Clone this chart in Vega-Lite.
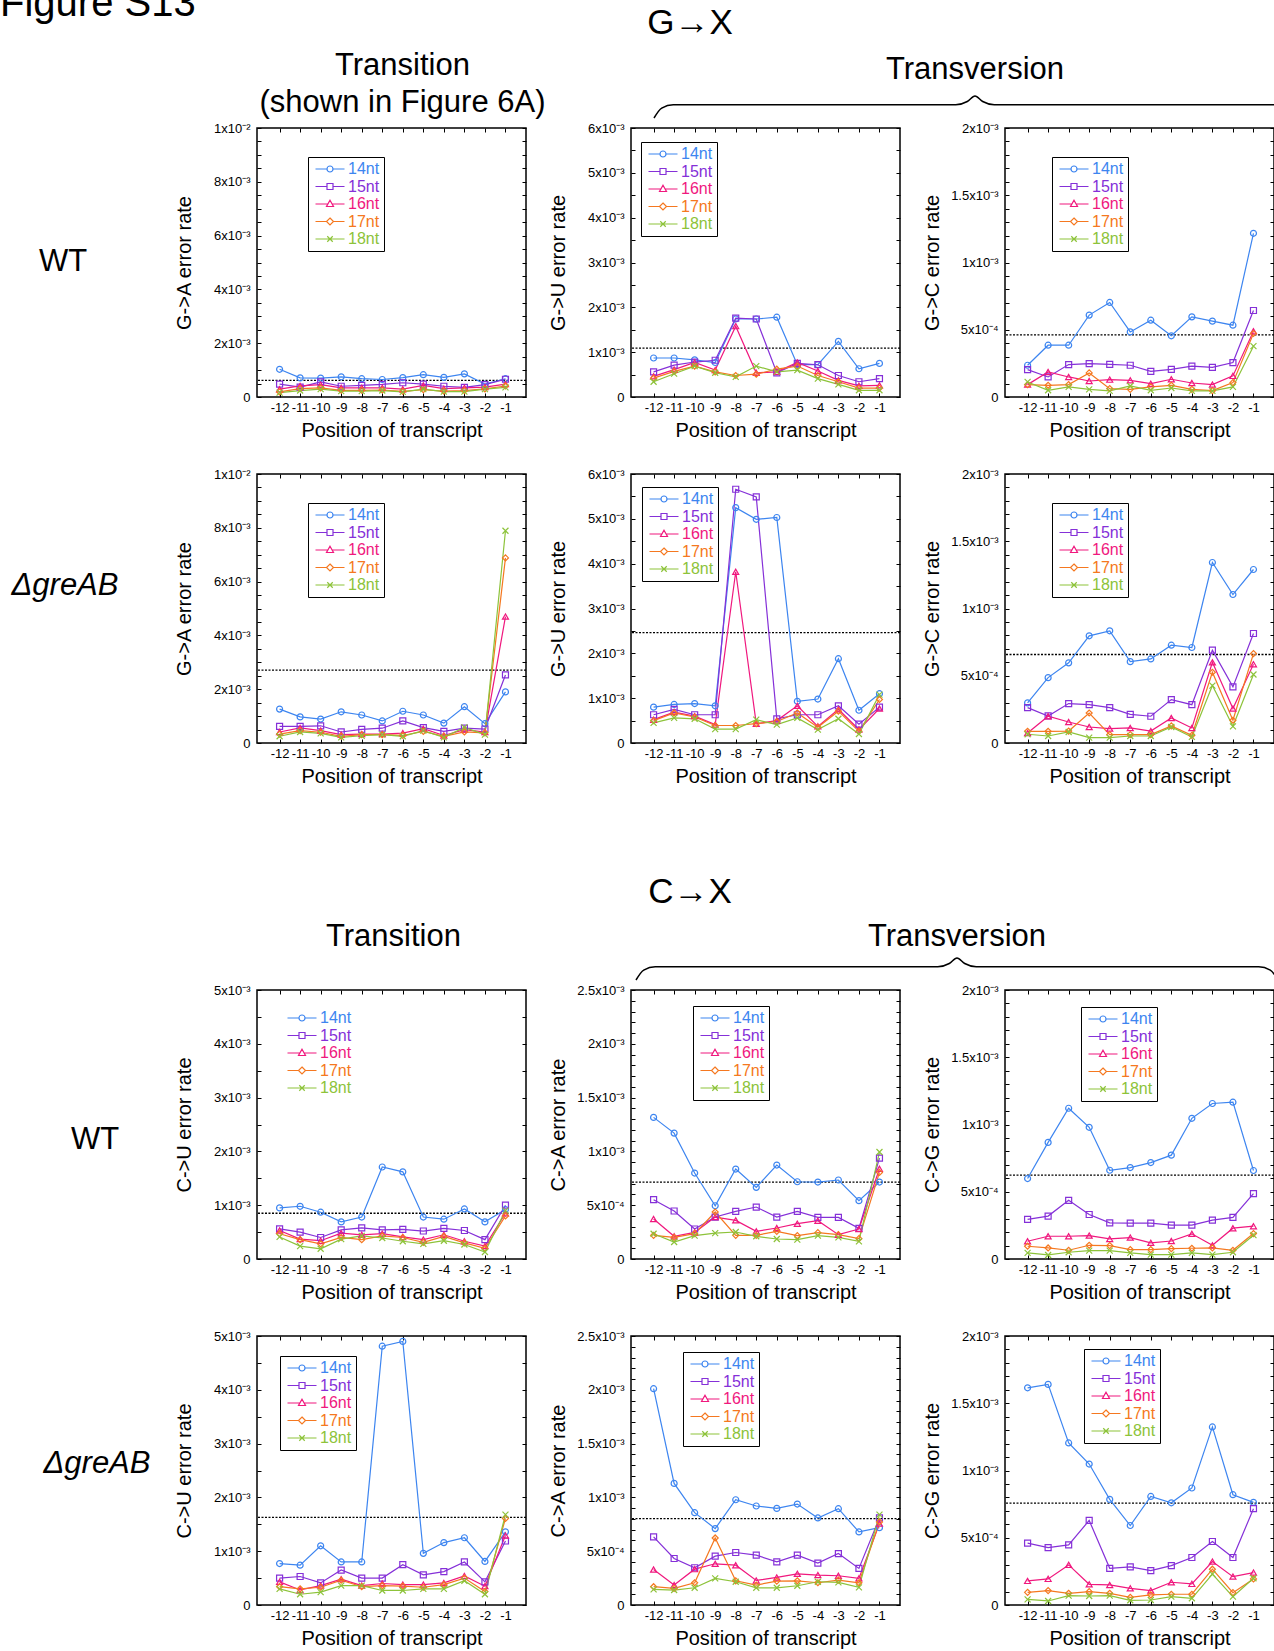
{
"$schema":"https://vega.github.io/schema/vega-lite/v6.json",
"padding":0,
"background":"white",
"config":{
 "font":"Liberation Sans",
 "view":{"stroke":"black","strokeWidth":1.5},
 "axis":{"labelFont":"Liberation Sans","labelFontSize":13,"labelColor":"black","titleFont":"Liberation Sans","titleFontSize":20,"titleFontWeight":"normal","titleColor":"black","tickColor":"black","tickSize":-4,"tickWidth":1,"domain":false,"grid":false,"labelOverlap":false,"labelFlush":false},
 "axisX":{"labelPadding":8,"titlePadding":6},
 "axisY":{"labelPadding":11,"minExtent":60,"maxExtent":60,"titlePadding":3},
 "legend":{"labelFont":"Liberation Sans","labelFontSize":16,"symbolSize":100,"symbolStrokeWidth":1.2,"symbolOffset":10,"labelOffset":10,"rowPadding":1.5,"padding":4,"strokeColor":"black","fillColor":"white"},
 "range":{"category":["#3d85f0","#8530d8","#f0187e","#f57820","#8dc33a"],"symbol":["circle","square","triangle-up","diamond","M-1,-1L1,1M-1,1L1,-1"]},
 "text":{"font":"Liberation Sans","color":"black"}
},
"datasets":{
 "gA_wt":[
  {"p":-12,"14nt":0.00103,"15nt":0.00048,"16nt":0.00029,"17nt":0.00019,"18nt":0.00016},
  {"p":-11,"14nt":0.00071,"15nt":0.00037,"16nt":0.00041,"17nt":0.00031,"18nt":0.00024},
  {"p":-10,"14nt":0.00070,"15nt":0.00056,"16nt":0.00046,"17nt":0.00034,"18nt":0.00029},
  {"p":-9,"14nt":0.00075,"15nt":0.00040,"16nt":0.00034,"17nt":0.00025,"18nt":0.00022},
  {"p":-8,"14nt":0.00068,"15nt":0.00043,"16nt":0.00034,"17nt":0.00025,"18nt":0.00022},
  {"p":-7,"14nt":0.00065,"15nt":0.00047,"16nt":0.00034,"17nt":0.00026,"18nt":0.00024},
  {"p":-6,"14nt":0.00072,"15nt":0.00053,"16nt":0.00029,"17nt":0.00021,"18nt":0.00019},
  {"p":-5,"14nt":0.00083,"15nt":0.00048,"16nt":0.00043,"17nt":0.00027,"18nt":0.00029},
  {"p":-4,"14nt":0.00073,"15nt":0.00040,"16nt":0.00031,"17nt":0.00022,"18nt":0.00020},
  {"p":-3,"14nt":0.00086,"15nt":0.00036,"16nt":0.00034,"17nt":0.00024,"18nt":0.00020},
  {"p":-2,"14nt":0.00048,"15nt":0.00046,"16nt":0.00037,"17nt":0.00030,"18nt":0.00029},
  {"p":-1,"14nt":0.00068,"15nt":0.00066,"16nt":0.00048,"17nt":0.00041,"18nt":0.00036}],
 "gU_wt":[
  {"p":-12,"14nt":0.00087,"15nt":0.00056,"16nt":0.00046,"17nt":0.00042,"18nt":0.00034},
  {"p":-11,"14nt":0.00087,"15nt":0.00071,"16nt":0.00061,"17nt":0.00057,"18nt":0.00052},
  {"p":-10,"14nt":0.00083,"15nt":0.00078,"16nt":0.00077,"17nt":0.00069,"18nt":0.00069},
  {"p":-9,"14nt":0.00077,"15nt":0.00082,"16nt":0.00060,"17nt":0.00056,"18nt":0.00054},
  {"p":-8,"14nt":0.00174,"15nt":0.00176,"16nt":0.00158,"17nt":0.00048,"18nt":0.00045},
  {"p":-7,"14nt":0.00174,"15nt":0.00174,"16nt":0.00054,"17nt":0.00051,"18nt":0.00069},
  {"p":-6,"14nt":0.00178,"15nt":0.00054,"16nt":0.00056,"17nt":0.00062,"18nt":0.00056},
  {"p":-5,"14nt":0.00072,"15nt":0.00075,"16nt":0.00077,"17nt":0.00069,"18nt":0.00060},
  {"p":-4,"14nt":0.00072,"15nt":0.00072,"16nt":0.00058,"17nt":0.00048,"18nt":0.00041},
  {"p":-3,"14nt":0.00124,"15nt":0.00048,"16nt":0.00037,"17nt":0.00034,"18nt":0.00028},
  {"p":-2,"14nt":0.00063,"15nt":0.00034,"16nt":0.00025,"17nt":0.00020,"18nt":0.00015},
  {"p":-1,"14nt":0.00075,"15nt":0.00041,"16nt":0.00026,"17nt":0.00020,"18nt":0.00015}],
 "gC_wt":[
  {"p":-12,"14nt":0.000236,"15nt":0.000204,"16nt":0.000092,"17nt":0.000092,"18nt":0.000112},
  {"p":-11,"14nt":0.000385,"15nt":0.000149,"16nt":0.000186,"17nt":0.000087,"18nt":0.000050},
  {"p":-10,"14nt":0.000385,"15nt":0.000241,"16nt":0.000149,"17nt":0.000092,"18nt":0.000075},
  {"p":-9,"14nt":0.000609,"15nt":0.000248,"16nt":0.000119,"17nt":0.000179,"18nt":0.000057},
  {"p":-8,"14nt":0.000703,"15nt":0.000243,"16nt":0.000129,"17nt":0.000062,"18nt":0.000045},
  {"p":-7,"14nt":0.000484,"15nt":0.000236,"16nt":0.000124,"17nt":0.000057,"18nt":0.000082},
  {"p":-6,"14nt":0.000571,"15nt":0.000191,"16nt":0.000099,"17nt":0.000075,"18nt":0.000050},
  {"p":-5,"14nt":0.000455,"15nt":0.000206,"16nt":0.000132,"17nt":0.000087,"18nt":0.000067},
  {"p":-4,"14nt":0.000596,"15nt":0.000229,"16nt":0.000104,"17nt":0.000057,"18nt":0.000045},
  {"p":-3,"14nt":0.000564,"15nt":0.000221,"16nt":0.000092,"17nt":0.000047,"18nt":0.000045},
  {"p":-2,"14nt":0.000534,"15nt":0.000256,"16nt":0.000157,"17nt":0.000107,"18nt":0.000075},
  {"p":-1,"14nt":0.001217,"15nt":0.000643,"16nt":0.000489,"17nt":0.000472,"18nt":0.000378}],
 "gA_d":[
  {"p":-12,"14nt":0.00126,"15nt":0.00062,"16nt":0.00041,"17nt":0.00033,"18nt":0.00025},
  {"p":-11,"14nt":0.00097,"15nt":0.00062,"16nt":0.00056,"17nt":0.00046,"18nt":0.00041},
  {"p":-10,"14nt":0.00089,"15nt":0.00064,"16nt":0.00046,"17nt":0.00040,"18nt":0.00036},
  {"p":-9,"14nt":0.00116,"15nt":0.00041,"16nt":0.00031,"17nt":0.00025,"18nt":0.00021},
  {"p":-8,"14nt":0.00104,"15nt":0.00051,"16nt":0.00033,"17nt":0.00031,"18nt":0.00027},
  {"p":-7,"14nt":0.00082,"15nt":0.00055,"16nt":0.00033,"17nt":0.00031,"18nt":0.00031},
  {"p":-6,"14nt":0.00118,"15nt":0.00082,"16nt":0.00037,"17nt":0.00028,"18nt":0.00025},
  {"p":-5,"14nt":0.00104,"15nt":0.00057,"16nt":0.00053,"17nt":0.00043,"18nt":0.00046},
  {"p":-4,"14nt":0.00074,"15nt":0.00043,"16nt":0.00028,"17nt":0.00025,"18nt":0.00021},
  {"p":-3,"14nt":0.00135,"15nt":0.00055,"16nt":0.00050,"17nt":0.00041,"18nt":0.00058},
  {"p":-2,"14nt":0.00072,"15nt":0.00052,"16nt":0.00041,"17nt":0.00038,"18nt":0.00031},
  {"p":-1,"14nt":0.00190,"15nt":0.00253,"16nt":0.00470,"17nt":0.00688,"18nt":0.00789}],
 "gU_d":[
  {"p":-12,"14nt":0.00080,"15nt":0.00063,"16nt":0.00052,"17nt":0.00050,"18nt":0.00045},
  {"p":-11,"14nt":0.00086,"15nt":0.00075,"16nt":0.00069,"17nt":0.00067,"18nt":0.00056},
  {"p":-10,"14nt":0.00088,"15nt":0.00063,"16nt":0.00060,"17nt":0.00058,"18nt":0.00054},
  {"p":-9,"14nt":0.00083,"15nt":0.00063,"16nt":0.00041,"17nt":0.00039,"18nt":0.00031},
  {"p":-8,"14nt":0.00525,"15nt":0.00566,"16nt":0.00382,"17nt":0.00039,"18nt":0.00031},
  {"p":-7,"14nt":0.00499,"15nt":0.00549,"16nt":0.00043,"17nt":0.00043,"18nt":0.00052},
  {"p":-6,"14nt":0.00503,"15nt":0.00054,"16nt":0.00050,"17nt":0.00048,"18nt":0.00041},
  {"p":-5,"14nt":0.00093,"15nt":0.00063,"16nt":0.00083,"17nt":0.00067,"18nt":0.00056},
  {"p":-4,"14nt":0.00098,"15nt":0.00063,"16nt":0.00037,"17nt":0.00035,"18nt":0.00030},
  {"p":-3,"14nt":0.00188,"15nt":0.00083,"16nt":0.00075,"17nt":0.00071,"18nt":0.00054},
  {"p":-2,"14nt":0.00073,"15nt":0.00042,"16nt":0.00030,"17nt":0.00026,"18nt":0.00020},
  {"p":-1,"14nt":0.00110,"15nt":0.00080,"16nt":0.00077,"17nt":0.00097,"18nt":0.00108}],
 "gC_d":[
  {"p":-12,"14nt":0.000298,"15nt":0.000263,"16nt":0.000074,"17nt":0.000087,"18nt":0.000065},
  {"p":-11,"14nt":0.000486,"15nt":0.000201,"16nt":0.000199,"17nt":0.000087,"18nt":0.000052},
  {"p":-10,"14nt":0.000596,"15nt":0.000293,"16nt":0.000156,"17nt":0.000089,"18nt":0.000082},
  {"p":-9,"14nt":0.000797,"15nt":0.000285,"16nt":0.000119,"17nt":0.000223,"18nt":0.000040},
  {"p":-8,"14nt":0.000834,"15nt":0.000263,"16nt":0.000107,"17nt":0.000062,"18nt":0.000040},
  {"p":-7,"14nt":0.000605,"15nt":0.000213,"16nt":0.000112,"17nt":0.000062,"18nt":0.000052},
  {"p":-6,"14nt":0.000625,"15nt":0.000199,"16nt":0.000089,"17nt":0.000062,"18nt":0.000052},
  {"p":-5,"14nt":0.000727,"15nt":0.000323,"16nt":0.000186,"17nt":0.000127,"18nt":0.000119},
  {"p":-4,"14nt":0.000710,"15nt":0.000285,"16nt":0.000112,"17nt":0.000057,"18nt":0.000045},
  {"p":-3,"14nt":0.001342,"15nt":0.000690,"16nt":0.000600,"17nt":0.000526,"18nt":0.000427},
  {"p":-2,"14nt":0.001104,"15nt":0.000417,"16nt":0.000256,"17nt":0.000169,"18nt":0.000124},
  {"p":-1,"14nt":0.001290,"15nt":0.000814,"16nt":0.000586,"17nt":0.000665,"18nt":0.000509}],
 "cU_wt":[
  {"p":-12,"14nt":0.00095,"15nt":0.00056,"16nt":0.00053,"17nt":0.00047,"18nt":0.00041},
  {"p":-11,"14nt":0.00098,"15nt":0.00050,"16nt":0.00037,"17nt":0.00036,"18nt":0.00024},
  {"p":-10,"14nt":0.00087,"15nt":0.00040,"16nt":0.00034,"17nt":0.00028,"18nt":0.00019},
  {"p":-9,"14nt":0.00069,"15nt":0.00054,"16nt":0.00048,"17nt":0.00040,"18nt":0.00037},
  {"p":-8,"14nt":0.00078,"15nt":0.00058,"16nt":0.00045,"17nt":0.00036,"18nt":0.00043},
  {"p":-7,"14nt":0.00171,"15nt":0.00054,"16nt":0.00047,"17nt":0.00043,"18nt":0.00039},
  {"p":-6,"14nt":0.00162,"15nt":0.00055,"16nt":0.00041,"17nt":0.00040,"18nt":0.00033},
  {"p":-5,"14nt":0.00078,"15nt":0.00052,"16nt":0.00036,"17nt":0.00031,"18nt":0.00028},
  {"p":-4,"14nt":0.00074,"15nt":0.00057,"16nt":0.00045,"17nt":0.00042,"18nt":0.00034},
  {"p":-3,"14nt":0.00093,"15nt":0.00053,"16nt":0.00033,"17nt":0.00030,"18nt":0.00027},
  {"p":-2,"14nt":0.00069,"15nt":0.00036,"16nt":0.00024,"17nt":0.00020,"18nt":0.00013},
  {"p":-1,"14nt":0.00092,"15nt":0.00100,"16nt":0.00085,"17nt":0.00080,"18nt":0.00090}],
 "cA_wt":[
  {"p":-12,"14nt":0.001316,"15nt":0.000551,"16nt":0.000372,"17nt":0.000220,"18nt":0.000235},
  {"p":-11,"14nt":0.001170,"15nt":0.000446,"16nt":0.000211,"17nt":0.000201,"18nt":0.000158},
  {"p":-10,"14nt":0.000799,"15nt":0.000279,"16nt":0.000248,"17nt":0.000235,"18nt":0.000217},
  {"p":-9,"14nt":0.000495,"15nt":0.000390,"16nt":0.000390,"17nt":0.000437,"18nt":0.000241},
  {"p":-8,"14nt":0.000836,"15nt":0.000443,"16nt":0.000359,"17nt":0.000220,"18nt":0.000251},
  {"p":-7,"14nt":0.000666,"15nt":0.000483,"16nt":0.000257,"17nt":0.000220,"18nt":0.000211},
  {"p":-6,"14nt":0.000873,"15nt":0.000390,"16nt":0.000288,"17nt":0.000257,"18nt":0.000186},
  {"p":-5,"14nt":0.000718,"15nt":0.000443,"16nt":0.000328,"17nt":0.000217,"18nt":0.000180},
  {"p":-4,"14nt":0.000715,"15nt":0.000387,"16nt":0.000356,"17nt":0.000245,"18nt":0.000217},
  {"p":-3,"14nt":0.000734,"15nt":0.000387,"16nt":0.000226,"17nt":0.000226,"18nt":0.000201},
  {"p":-2,"14nt":0.000542,"15nt":0.000285,"16nt":0.000279,"17nt":0.000189,"18nt":0.000164},
  {"p":-1,"14nt":0.000715,"15nt":0.000938,"16nt":0.000839,"17nt":0.000805,"18nt":0.000994}],
 "cG_wt":[
  {"p":-12,"14nt":0.000598,"15nt":0.000294,"16nt":0.000132,"17nt":0.000095,"18nt":0.000045},
  {"p":-11,"14nt":0.000867,"15nt":0.000319,"16nt":0.000169,"17nt":0.000082,"18nt":0.000030},
  {"p":-10,"14nt":0.001121,"15nt":0.000436,"16nt":0.000169,"17nt":0.000065,"18nt":0.000050},
  {"p":-9,"14nt":0.000979,"15nt":0.000331,"16nt":0.000174,"17nt":0.000102,"18nt":0.000062},
  {"p":-8,"14nt":0.000660,"15nt":0.000269,"16nt":0.000149,"17nt":0.000100,"18nt":0.000062},
  {"p":-7,"14nt":0.000680,"15nt":0.000267,"16nt":0.000159,"17nt":0.000070,"18nt":0.000045},
  {"p":-6,"14nt":0.000717,"15nt":0.000267,"16nt":0.000120,"17nt":0.000070,"18nt":0.000032},
  {"p":-5,"14nt":0.000772,"15nt":0.000252,"16nt":0.000134,"17nt":0.000077,"18nt":0.000032},
  {"p":-4,"14nt":0.001046,"15nt":0.000252,"16nt":0.000187,"17nt":0.000080,"18nt":0.000045},
  {"p":-3,"14nt":0.001156,"15nt":0.000289,"16nt":0.000102,"17nt":0.000082,"18nt":0.000032},
  {"p":-2,"14nt":0.001166,"15nt":0.000309,"16nt":0.000229,"17nt":0.000065,"18nt":0.000050},
  {"p":-1,"14nt":0.000658,"15nt":0.000486,"16nt":0.000244,"17nt":0.000189,"18nt":0.000177}],
 "cU_d":[
  {"p":-12,"14nt":0.00077,"15nt":0.00050,"16nt":0.00043,"17nt":0.00034,"18nt":0.00030},
  {"p":-11,"14nt":0.00074,"15nt":0.00053,"16nt":0.00028,"17nt":0.00030,"18nt":0.00020},
  {"p":-10,"14nt":0.00110,"15nt":0.00041,"16nt":0.00036,"17nt":0.00033,"18nt":0.00024},
  {"p":-9,"14nt":0.00080,"15nt":0.00065,"16nt":0.00048,"17nt":0.00046,"18nt":0.00036},
  {"p":-8,"14nt":0.00080,"15nt":0.00050,"16nt":0.00036,"17nt":0.00034,"18nt":0.00036},
  {"p":-7,"14nt":0.00481,"15nt":0.00050,"16nt":0.00040,"17nt":0.00036,"18nt":0.00027},
  {"p":-6,"14nt":0.00490,"15nt":0.00075,"16nt":0.00038,"17nt":0.00035,"18nt":0.00027},
  {"p":-5,"14nt":0.00096,"15nt":0.00056,"16nt":0.00038,"17nt":0.00033,"18nt":0.00030},
  {"p":-4,"14nt":0.00116,"15nt":0.00062,"16nt":0.00041,"17nt":0.00038,"18nt":0.00030},
  {"p":-3,"14nt":0.00125,"15nt":0.00080,"16nt":0.00054,"17nt":0.00050,"18nt":0.00045},
  {"p":-2,"14nt":0.00081,"15nt":0.00043,"16nt":0.00035,"17nt":0.00025,"18nt":0.00020},
  {"p":-1,"14nt":0.00136,"15nt":0.00119,"16nt":0.00129,"17nt":0.00161,"18nt":0.00168}],
 "cA_d":[
  {"p":-12,"14nt":0.002010,"15nt":0.000633,"16nt":0.000330,"17nt":0.000170,"18nt":0.000145},
  {"p":-11,"14nt":0.001130,"15nt":0.000432,"16nt":0.000185,"17nt":0.000154,"18nt":0.000139},
  {"p":-10,"14nt":0.000858,"15nt":0.000346,"16nt":0.000333,"17nt":0.000207,"18nt":0.000160},
  {"p":-9,"14nt":0.000710,"15nt":0.000454,"16nt":0.000383,"17nt":0.000623,"18nt":0.000247},
  {"p":-8,"14nt":0.000978,"15nt":0.000488,"16nt":0.000370,"17nt":0.000225,"18nt":0.000216},
  {"p":-7,"14nt":0.000920,"15nt":0.000463,"16nt":0.000228,"17nt":0.000185,"18nt":0.000160},
  {"p":-6,"14nt":0.000898,"15nt":0.000401,"16nt":0.000256,"17nt":0.000222,"18nt":0.000160},
  {"p":-5,"14nt":0.000938,"15nt":0.000463,"16nt":0.000290,"17nt":0.000225,"18nt":0.000179},
  {"p":-4,"14nt":0.000809,"15nt":0.000389,"16nt":0.000278,"17nt":0.000207,"18nt":0.000216},
  {"p":-3,"14nt":0.000895,"15nt":0.000478,"16nt":0.000272,"17nt":0.000231,"18nt":0.000210},
  {"p":-2,"14nt":0.000679,"15nt":0.000340,"16nt":0.000247,"17nt":0.000207,"18nt":0.000164},
  {"p":-1,"14nt":0.000719,"15nt":0.000809,"16nt":0.000756,"17nt":0.000772,"18nt":0.000840}],
 "cG_d":[
  {"p":-12,"14nt":0.001615,"15nt":0.000460,"16nt":0.000179,"17nt":0.000094,"18nt":0.000042},
  {"p":-11,"14nt":0.001640,"15nt":0.000427,"16nt":0.000194,"17nt":0.000107,"18nt":0.000030},
  {"p":-10,"14nt":0.001205,"15nt":0.000447,"16nt":0.000298,"17nt":0.000087,"18nt":0.000070},
  {"p":-9,"14nt":0.001048,"15nt":0.000629,"16nt":0.000154,"17nt":0.000099,"18nt":0.000067},
  {"p":-8,"14nt":0.000785,"15nt":0.000273,"16nt":0.000149,"17nt":0.000087,"18nt":0.000070},
  {"p":-7,"14nt":0.000591,"15nt":0.000283,"16nt":0.000124,"17nt":0.000057,"18nt":0.000035},
  {"p":-6,"14nt":0.000807,"15nt":0.000256,"16nt":0.000107,"17nt":0.000075,"18nt":0.000037},
  {"p":-5,"14nt":0.000760,"15nt":0.000293,"16nt":0.000169,"17nt":0.000080,"18nt":0.000062},
  {"p":-4,"14nt":0.000870,"15nt":0.000353,"16nt":0.000157,"17nt":0.000080,"18nt":0.000050},
  {"p":-3,"14nt":0.001324,"15nt":0.000472,"16nt":0.000323,"17nt":0.000266,"18nt":0.000229},
  {"p":-2,"14nt":0.000820,"15nt":0.000353,"16nt":0.000211,"17nt":0.000092,"18nt":0.000062},
  {"p":-1,"14nt":0.000763,"15nt":0.000716,"16nt":0.000241,"17nt":0.000194,"18nt":0.000199}]
},
"spacing":0,
"resolve":{"scale":{"color":"independent","shape":"independent"}},
"vconcat":[
 {"width":1274,"height":46,"view":{"stroke":null},"data":{"values":[{"t":"G\u2192X","f":"Figure S13"}]},
  "layer":[
   {"mark":{"type":"text","fontSize":35,"dx":53},"encoding":{"text":{"field":"t"}}},
   {"mark":{"type":"text","fontSize":40,"align":"left","baseline":"alphabetic","dx":-637,"dy":-7,"clip":true},"encoding":{"text":{"field":"f"}}}
  ]},
 {"hconcat":[
   {"width":154,"height":75,"view":{"stroke":null},"data":{"values":[{"t":""}]},"mark":"text","encoding":{"text":{"field":"t"}}},
   {"width":269,"height":75,"view":{"stroke":null},"data":{"values":[{"t":"Transition\n(shown in Figure 6A)"}]},"mark":{"type":"text","fontSize":31,"lineBreak":"\n","lineHeight":37,"dy":-17.5},"encoding":{"text":{"field":"t"}}},
   {"vconcat":[
     {"width":642,"height":47,"view":{"stroke":null},"data":{"values":[{"t":"Transversion"}]},"mark":{"type":"text","fontSize":31},"encoding":{"text":{"field":"t"}}},
     {"width":642,"height":22,"view":{"stroke":null},"data":{"values":[{"u":0,"v":0},{"u":0.012,"v":0.45},{"u":0.03,"v":0.6},{"u":0.47,"v":0.6},{"u":0.488,"v":0.75},{"u":0.5,"v":1},{"u":0.512,"v":0.75},{"u":0.53,"v":0.6},{"u":0.97,"v":0.6},{"u":0.988,"v":0.45},{"u":1,"v":0}]},
      "mark":{"type":"line","color":"black","strokeWidth":1.5,"interpolate":"monotone"},
      "encoding":{"x":{"field":"u","type":"quantitative","scale":{"domain":[0,1],"nice":false,"zero":false},"axis":null},"y":{"field":"v","type":"quantitative","scale":{"domain":[0,1],"nice":false},"axis":null}}}
   ],"spacing":0}
 ],"spacing":105},
 {"hconcat":[
   {"width":154,"height":269,"view":{"stroke":null},"data":{"values":[{"t":"WT"}]},"mark":{"type":"text","fontSize":31,"dx":-14,"dy":-1},"encoding":{"text":{"field":"t"}}},
   {"width":269,"height":269,"resolve":{"axis":{"x":"independent","y":"independent"}},"layer":[
     {"data":{"values":[{"t":0.00062}]},"mark":{"type":"rule","color":"black","strokeDash":[2,1.5],"strokeWidth":1.3},"encoding":{"y":{"field":"t","type":"quantitative","axis":null}}},
     {"data":{"name":"gA_wt"},"transform":[{"fold":["14nt","15nt","16nt","17nt","18nt"],"as":["s","v"]}],"mark":{"type":"line","strokeWidth":1.2},
      "encoding":{"x":{"field":"p","type":"quantitative","scale":{"domain":[-13.1,0],"nice":false,"zero":false},"axis":{"orient":"bottom","values":[-12,-11,-10,-9,-8,-7,-6,-5,-4,-3,-2,-1],"labelExpr":"''+datum.value","title":"Position of transcript"}},
       "y":{"field":"v","type":"quantitative","scale":{"domain":[0,0.01],"nice":false},"axis":{"orient":"left","values":[0,0.0005,0.001,0.0015,0.002,0.0025,0.003,0.0035,0.004,0.0045,0.005,0.0055,0.006,0.0065,0.007,0.0075,0.008,0.0085,0.009,0.0095,0.01],"labelExpr":"abs(datum.value/0.002-round(datum.value/0.002))>0.01?'':datum.value==0?'0':(round(datum.value/pow(10,floor(log(datum.value)/LN10+1e-6))*10)/10)+'x10'+(floor(log(datum.value)/LN10+1e-6)==-2?'\u207b\u00b2':floor(log(datum.value)/LN10+1e-6)==-3?'\u207b\u00b3':'\u207b\u2074')","title":"G->A error rate"}},
       "color":{"field":"s","type":"nominal","legend":{"orient":"none","legendX":51,"legendY":29,"title":null,"encode":{"symbols":{"update":{"shape":{"signal":"datum.value=='14nt'?'M-2.9,0L-0.6,0M0.6,0L2.9,0M0.6,0A0.6,0.6,0,1,1,-0.6,0A0.6,0.6,0,1,1,0.6,0':datum.value=='15nt'?'M-2.9,0L-0.6,0M0.6,0L2.9,0M-0.6,-0.6L0.6,-0.6L0.6,0.6L-0.6,0.6Z':datum.value=='16nt'?'M-2.9,0L-0.45,0M0.45,0L2.9,0M0,-0.75L0.7,0.5L-0.7,0.5Z':datum.value=='17nt'?'M-2.9,0L-0.7,0M0.7,0L2.9,0M0,-0.7L0.7,0L0,0.7L-0.7,0Z':'M-2.9,0L2.9,0M-0.55,-0.55L0.55,0.55M-0.55,0.55L0.55,-0.55'"},"size":{"value":100},"fill":{"value":"transparent"},"strokeWidth":{"value":1.2}}},"labels":{"update":{"fill":{"signal":"datum.value=='14nt'?'#3d85f0':datum.value=='15nt'?'#8530d8':datum.value=='16nt'?'#f0187e':datum.value=='17nt'?'#f57820':'#8dc33a'"}}}}}}}},
     {"data":{"name":"gA_wt"},"transform":[{"fold":["14nt","15nt","16nt","17nt","18nt"],"as":["s","v"]}],"mark":{"type":"point","filled":false,"size":36,"strokeWidth":1.2,"opacity":1},
      "encoding":{"x":{"field":"p","type":"quantitative","axis":{"orient":"top","values":[-12,-11,-10,-9,-8,-7,-6,-5,-4,-3,-2,-1],"labels":false,"title":null,"minExtent":0,"maxExtent":0}},
       "y":{"field":"v","type":"quantitative","axis":{"orient":"right","values":[0,0.0005,0.001,0.0015,0.002,0.0025,0.003,0.0035,0.004,0.0045,0.005,0.0055,0.006,0.0065,0.007,0.0075,0.008,0.0085,0.009,0.0095,0.01],"labels":false,"title":null,"minExtent":0,"maxExtent":0}},
       "color":{"field":"s","type":"nominal"},"shape":{"field":"s","type":"nominal","legend":null}}}
   ]},
   {"width":269,"height":269,"resolve":{"axis":{"x":"independent","y":"independent"}},"layer":[
     {"data":{"values":[{"t":0.00109}]},"mark":{"type":"rule","color":"black","strokeDash":[2,1.5],"strokeWidth":1.3},"encoding":{"y":{"field":"t","type":"quantitative","axis":null}}},
     {"data":{"name":"gU_wt"},"transform":[{"fold":["14nt","15nt","16nt","17nt","18nt"],"as":["s","v"]}],"mark":{"type":"line","strokeWidth":1.2},
      "encoding":{"x":{"field":"p","type":"quantitative","scale":{"domain":[-13.1,0],"nice":false,"zero":false},"axis":{"orient":"bottom","values":[-12,-11,-10,-9,-8,-7,-6,-5,-4,-3,-2,-1],"labelExpr":"''+datum.value","title":"Position of transcript"}},
       "y":{"field":"v","type":"quantitative","scale":{"domain":[0,0.006],"nice":false},"axis":{"orient":"left","values":[0,0.0005,0.001,0.0015,0.002,0.0025,0.003,0.0035,0.004,0.0045,0.005,0.0055,0.006],"labelExpr":"abs(datum.value/0.001-round(datum.value/0.001))>0.01?'':datum.value==0?'0':(round(datum.value/pow(10,floor(log(datum.value)/LN10+1e-6))*10)/10)+'x10'+(floor(log(datum.value)/LN10+1e-6)==-2?'\u207b\u00b2':floor(log(datum.value)/LN10+1e-6)==-3?'\u207b\u00b3':'\u207b\u2074')","title":"G->U error rate"}},
       "color":{"field":"s","type":"nominal","legend":{"orient":"none","legendX":10,"legendY":14,"title":null,"encode":{"symbols":{"update":{"shape":{"signal":"datum.value=='14nt'?'M-2.9,0L-0.6,0M0.6,0L2.9,0M0.6,0A0.6,0.6,0,1,1,-0.6,0A0.6,0.6,0,1,1,0.6,0':datum.value=='15nt'?'M-2.9,0L-0.6,0M0.6,0L2.9,0M-0.6,-0.6L0.6,-0.6L0.6,0.6L-0.6,0.6Z':datum.value=='16nt'?'M-2.9,0L-0.45,0M0.45,0L2.9,0M0,-0.75L0.7,0.5L-0.7,0.5Z':datum.value=='17nt'?'M-2.9,0L-0.7,0M0.7,0L2.9,0M0,-0.7L0.7,0L0,0.7L-0.7,0Z':'M-2.9,0L2.9,0M-0.55,-0.55L0.55,0.55M-0.55,0.55L0.55,-0.55'"},"size":{"value":100},"fill":{"value":"transparent"},"strokeWidth":{"value":1.2}}},"labels":{"update":{"fill":{"signal":"datum.value=='14nt'?'#3d85f0':datum.value=='15nt'?'#8530d8':datum.value=='16nt'?'#f0187e':datum.value=='17nt'?'#f57820':'#8dc33a'"}}}}}}}},
     {"data":{"name":"gU_wt"},"transform":[{"fold":["14nt","15nt","16nt","17nt","18nt"],"as":["s","v"]}],"mark":{"type":"point","filled":false,"size":36,"strokeWidth":1.2,"opacity":1},
      "encoding":{"x":{"field":"p","type":"quantitative","axis":{"orient":"top","values":[-12,-11,-10,-9,-8,-7,-6,-5,-4,-3,-2,-1],"labels":false,"title":null,"minExtent":0,"maxExtent":0}},
       "y":{"field":"v","type":"quantitative","axis":{"orient":"right","values":[0,0.0005,0.001,0.0015,0.002,0.0025,0.003,0.0035,0.004,0.0045,0.005,0.0055,0.006],"labels":false,"title":null,"minExtent":0,"maxExtent":0}},
       "color":{"field":"s","type":"nominal"},"shape":{"field":"s","type":"nominal","legend":null}}}
   ]},
   {"width":269,"height":269,"resolve":{"axis":{"x":"independent","y":"independent"}},"layer":[
     {"data":{"values":[{"t":0.000462}]},"mark":{"type":"rule","color":"black","strokeDash":[2,1.5],"strokeWidth":1.3},"encoding":{"y":{"field":"t","type":"quantitative","axis":null}}},
     {"data":{"name":"gC_wt"},"transform":[{"fold":["14nt","15nt","16nt","17nt","18nt"],"as":["s","v"]}],"mark":{"type":"line","strokeWidth":1.2},
      "encoding":{"x":{"field":"p","type":"quantitative","scale":{"domain":[-13.1,0],"nice":false,"zero":false},"axis":{"orient":"bottom","values":[-12,-11,-10,-9,-8,-7,-6,-5,-4,-3,-2,-1],"labelExpr":"''+datum.value","title":"Position of transcript"}},
       "y":{"field":"v","type":"quantitative","scale":{"domain":[0,0.002],"nice":false},"axis":{"orient":"left","values":[0,0.0001,0.0002,0.0003,0.0004,0.0005,0.0006,0.0007,0.0008,0.0009,0.001,0.0011,0.0012,0.0013,0.0014,0.0015,0.0016,0.0017,0.0018,0.0019,0.002],"labelExpr":"abs(datum.value/0.0005-round(datum.value/0.0005))>0.01?'':datum.value==0?'0':(round(datum.value/pow(10,floor(log(datum.value)/LN10+1e-6))*10)/10)+'x10'+(floor(log(datum.value)/LN10+1e-6)==-2?'\u207b\u00b2':floor(log(datum.value)/LN10+1e-6)==-3?'\u207b\u00b3':'\u207b\u2074')","title":"G->C error rate"}},
       "color":{"field":"s","type":"nominal","legend":{"orient":"none","legendX":47,"legendY":29,"title":null,"encode":{"symbols":{"update":{"shape":{"signal":"datum.value=='14nt'?'M-2.9,0L-0.6,0M0.6,0L2.9,0M0.6,0A0.6,0.6,0,1,1,-0.6,0A0.6,0.6,0,1,1,0.6,0':datum.value=='15nt'?'M-2.9,0L-0.6,0M0.6,0L2.9,0M-0.6,-0.6L0.6,-0.6L0.6,0.6L-0.6,0.6Z':datum.value=='16nt'?'M-2.9,0L-0.45,0M0.45,0L2.9,0M0,-0.75L0.7,0.5L-0.7,0.5Z':datum.value=='17nt'?'M-2.9,0L-0.7,0M0.7,0L2.9,0M0,-0.7L0.7,0L0,0.7L-0.7,0Z':'M-2.9,0L2.9,0M-0.55,-0.55L0.55,0.55M-0.55,0.55L0.55,-0.55'"},"size":{"value":100},"fill":{"value":"transparent"},"strokeWidth":{"value":1.2}}},"labels":{"update":{"fill":{"signal":"datum.value=='14nt'?'#3d85f0':datum.value=='15nt'?'#8530d8':datum.value=='16nt'?'#f0187e':datum.value=='17nt'?'#f57820':'#8dc33a'"}}}}}}}},
     {"data":{"name":"gC_wt"},"transform":[{"fold":["14nt","15nt","16nt","17nt","18nt"],"as":["s","v"]}],"mark":{"type":"point","filled":false,"size":36,"strokeWidth":1.2,"opacity":1},
      "encoding":{"x":{"field":"p","type":"quantitative","axis":{"orient":"top","values":[-12,-11,-10,-9,-8,-7,-6,-5,-4,-3,-2,-1],"labels":false,"title":null,"minExtent":0,"maxExtent":0}},
       "y":{"field":"v","type":"quantitative","axis":{"orient":"right","values":[0,0.0001,0.0002,0.0003,0.0004,0.0005,0.0006,0.0007,0.0008,0.0009,0.001,0.0011,0.0012,0.0013,0.0014,0.0015,0.0016,0.0017,0.0018,0.0019,0.002],"labels":false,"title":null,"minExtent":0,"maxExtent":0}},
       "color":{"field":"s","type":"nominal"},"shape":{"field":"s","type":"nominal","legend":null}}}
   ]}
 ],"spacing":19,"resolve":{"scale":{"color":"independent","shape":"independent"}}},
 {"width":1,"height":26,"view":{"stroke":null},"data":{"values":[{"t":""}]},"mark":"text","encoding":{"text":{"field":"t"}}},
 {"hconcat":[
   {"width":154,"height":269,"view":{"stroke":null},"data":{"values":[{"t":"\u0394greAB"}]},"mark":{"type":"text","fontSize":31,"fontStyle":"italic","dx":-12,"dy":-23},"encoding":{"text":{"field":"t"}}},
   {"width":269,"height":269,"resolve":{"axis":{"x":"independent","y":"independent"}},"layer":[
     {"data":{"values":[{"t":0.00271}]},"mark":{"type":"rule","color":"black","strokeDash":[2,1.5],"strokeWidth":1.3},"encoding":{"y":{"field":"t","type":"quantitative","axis":null}}},
     {"data":{"name":"gA_d"},"transform":[{"fold":["14nt","15nt","16nt","17nt","18nt"],"as":["s","v"]}],"mark":{"type":"line","strokeWidth":1.2},
      "encoding":{"x":{"field":"p","type":"quantitative","scale":{"domain":[-13.1,0],"nice":false,"zero":false},"axis":{"orient":"bottom","values":[-12,-11,-10,-9,-8,-7,-6,-5,-4,-3,-2,-1],"labelExpr":"''+datum.value","title":"Position of transcript"}},
       "y":{"field":"v","type":"quantitative","scale":{"domain":[0,0.01],"nice":false},"axis":{"orient":"left","values":[0,0.0005,0.001,0.0015,0.002,0.0025,0.003,0.0035,0.004,0.0045,0.005,0.0055,0.006,0.0065,0.007,0.0075,0.008,0.0085,0.009,0.0095,0.01],"labelExpr":"abs(datum.value/0.002-round(datum.value/0.002))>0.01?'':datum.value==0?'0':(round(datum.value/pow(10,floor(log(datum.value)/LN10+1e-6))*10)/10)+'x10'+(floor(log(datum.value)/LN10+1e-6)==-2?'\u207b\u00b2':floor(log(datum.value)/LN10+1e-6)==-3?'\u207b\u00b3':'\u207b\u2074')","title":"G->A error rate"}},
       "color":{"field":"s","type":"nominal","legend":{"orient":"none","legendX":51,"legendY":29,"title":null,"encode":{"symbols":{"update":{"shape":{"signal":"datum.value=='14nt'?'M-2.9,0L-0.6,0M0.6,0L2.9,0M0.6,0A0.6,0.6,0,1,1,-0.6,0A0.6,0.6,0,1,1,0.6,0':datum.value=='15nt'?'M-2.9,0L-0.6,0M0.6,0L2.9,0M-0.6,-0.6L0.6,-0.6L0.6,0.6L-0.6,0.6Z':datum.value=='16nt'?'M-2.9,0L-0.45,0M0.45,0L2.9,0M0,-0.75L0.7,0.5L-0.7,0.5Z':datum.value=='17nt'?'M-2.9,0L-0.7,0M0.7,0L2.9,0M0,-0.7L0.7,0L0,0.7L-0.7,0Z':'M-2.9,0L2.9,0M-0.55,-0.55L0.55,0.55M-0.55,0.55L0.55,-0.55'"},"size":{"value":100},"fill":{"value":"transparent"},"strokeWidth":{"value":1.2}}},"labels":{"update":{"fill":{"signal":"datum.value=='14nt'?'#3d85f0':datum.value=='15nt'?'#8530d8':datum.value=='16nt'?'#f0187e':datum.value=='17nt'?'#f57820':'#8dc33a'"}}}}}}}},
     {"data":{"name":"gA_d"},"transform":[{"fold":["14nt","15nt","16nt","17nt","18nt"],"as":["s","v"]}],"mark":{"type":"point","filled":false,"size":36,"strokeWidth":1.2,"opacity":1},
      "encoding":{"x":{"field":"p","type":"quantitative","axis":{"orient":"top","values":[-12,-11,-10,-9,-8,-7,-6,-5,-4,-3,-2,-1],"labels":false,"title":null,"minExtent":0,"maxExtent":0}},
       "y":{"field":"v","type":"quantitative","axis":{"orient":"right","values":[0,0.0005,0.001,0.0015,0.002,0.0025,0.003,0.0035,0.004,0.0045,0.005,0.0055,0.006,0.0065,0.007,0.0075,0.008,0.0085,0.009,0.0095,0.01],"labels":false,"title":null,"minExtent":0,"maxExtent":0}},
       "color":{"field":"s","type":"nominal"},"shape":{"field":"s","type":"nominal","legend":null}}}
   ]},
   {"width":269,"height":269,"resolve":{"axis":{"x":"independent","y":"independent"}},"layer":[
     {"data":{"values":[{"t":0.00246}]},"mark":{"type":"rule","color":"black","strokeDash":[2,1.5],"strokeWidth":1.3},"encoding":{"y":{"field":"t","type":"quantitative","axis":null}}},
     {"data":{"name":"gU_d"},"transform":[{"fold":["14nt","15nt","16nt","17nt","18nt"],"as":["s","v"]}],"mark":{"type":"line","strokeWidth":1.2},
      "encoding":{"x":{"field":"p","type":"quantitative","scale":{"domain":[-13.1,0],"nice":false,"zero":false},"axis":{"orient":"bottom","values":[-12,-11,-10,-9,-8,-7,-6,-5,-4,-3,-2,-1],"labelExpr":"''+datum.value","title":"Position of transcript"}},
       "y":{"field":"v","type":"quantitative","scale":{"domain":[0,0.006],"nice":false},"axis":{"orient":"left","values":[0,0.0005,0.001,0.0015,0.002,0.0025,0.003,0.0035,0.004,0.0045,0.005,0.0055,0.006],"labelExpr":"abs(datum.value/0.001-round(datum.value/0.001))>0.01?'':datum.value==0?'0':(round(datum.value/pow(10,floor(log(datum.value)/LN10+1e-6))*10)/10)+'x10'+(floor(log(datum.value)/LN10+1e-6)==-2?'\u207b\u00b2':floor(log(datum.value)/LN10+1e-6)==-3?'\u207b\u00b3':'\u207b\u2074')","title":"G->U error rate"}},
       "color":{"field":"s","type":"nominal","legend":{"orient":"none","legendX":11,"legendY":13,"title":null,"encode":{"symbols":{"update":{"shape":{"signal":"datum.value=='14nt'?'M-2.9,0L-0.6,0M0.6,0L2.9,0M0.6,0A0.6,0.6,0,1,1,-0.6,0A0.6,0.6,0,1,1,0.6,0':datum.value=='15nt'?'M-2.9,0L-0.6,0M0.6,0L2.9,0M-0.6,-0.6L0.6,-0.6L0.6,0.6L-0.6,0.6Z':datum.value=='16nt'?'M-2.9,0L-0.45,0M0.45,0L2.9,0M0,-0.75L0.7,0.5L-0.7,0.5Z':datum.value=='17nt'?'M-2.9,0L-0.7,0M0.7,0L2.9,0M0,-0.7L0.7,0L0,0.7L-0.7,0Z':'M-2.9,0L2.9,0M-0.55,-0.55L0.55,0.55M-0.55,0.55L0.55,-0.55'"},"size":{"value":100},"fill":{"value":"transparent"},"strokeWidth":{"value":1.2}}},"labels":{"update":{"fill":{"signal":"datum.value=='14nt'?'#3d85f0':datum.value=='15nt'?'#8530d8':datum.value=='16nt'?'#f0187e':datum.value=='17nt'?'#f57820':'#8dc33a'"}}}}}}}},
     {"data":{"name":"gU_d"},"transform":[{"fold":["14nt","15nt","16nt","17nt","18nt"],"as":["s","v"]}],"mark":{"type":"point","filled":false,"size":36,"strokeWidth":1.2,"opacity":1},
      "encoding":{"x":{"field":"p","type":"quantitative","axis":{"orient":"top","values":[-12,-11,-10,-9,-8,-7,-6,-5,-4,-3,-2,-1],"labels":false,"title":null,"minExtent":0,"maxExtent":0}},
       "y":{"field":"v","type":"quantitative","axis":{"orient":"right","values":[0,0.0005,0.001,0.0015,0.002,0.0025,0.003,0.0035,0.004,0.0045,0.005,0.0055,0.006],"labels":false,"title":null,"minExtent":0,"maxExtent":0}},
       "color":{"field":"s","type":"nominal"},"shape":{"field":"s","type":"nominal","legend":null}}}
   ]},
   {"width":269,"height":269,"resolve":{"axis":{"x":"independent","y":"independent"}},"layer":[
     {"data":{"values":[{"t":0.000658}]},"mark":{"type":"rule","color":"black","strokeDash":[2,1.5],"strokeWidth":1.3},"encoding":{"y":{"field":"t","type":"quantitative","axis":null}}},
     {"data":{"name":"gC_d"},"transform":[{"fold":["14nt","15nt","16nt","17nt","18nt"],"as":["s","v"]}],"mark":{"type":"line","strokeWidth":1.2},
      "encoding":{"x":{"field":"p","type":"quantitative","scale":{"domain":[-13.1,0],"nice":false,"zero":false},"axis":{"orient":"bottom","values":[-12,-11,-10,-9,-8,-7,-6,-5,-4,-3,-2,-1],"labelExpr":"''+datum.value","title":"Position of transcript"}},
       "y":{"field":"v","type":"quantitative","scale":{"domain":[0,0.002],"nice":false},"axis":{"orient":"left","values":[0,0.0001,0.0002,0.0003,0.0004,0.0005,0.0006,0.0007,0.0008,0.0009,0.001,0.0011,0.0012,0.0013,0.0014,0.0015,0.0016,0.0017,0.0018,0.0019,0.002],"labelExpr":"abs(datum.value/0.0005-round(datum.value/0.0005))>0.01?'':datum.value==0?'0':(round(datum.value/pow(10,floor(log(datum.value)/LN10+1e-6))*10)/10)+'x10'+(floor(log(datum.value)/LN10+1e-6)==-2?'\u207b\u00b2':floor(log(datum.value)/LN10+1e-6)==-3?'\u207b\u00b3':'\u207b\u2074')","title":"G->C error rate"}},
       "color":{"field":"s","type":"nominal","legend":{"orient":"none","legendX":47,"legendY":29,"title":null,"encode":{"symbols":{"update":{"shape":{"signal":"datum.value=='14nt'?'M-2.9,0L-0.6,0M0.6,0L2.9,0M0.6,0A0.6,0.6,0,1,1,-0.6,0A0.6,0.6,0,1,1,0.6,0':datum.value=='15nt'?'M-2.9,0L-0.6,0M0.6,0L2.9,0M-0.6,-0.6L0.6,-0.6L0.6,0.6L-0.6,0.6Z':datum.value=='16nt'?'M-2.9,0L-0.45,0M0.45,0L2.9,0M0,-0.75L0.7,0.5L-0.7,0.5Z':datum.value=='17nt'?'M-2.9,0L-0.7,0M0.7,0L2.9,0M0,-0.7L0.7,0L0,0.7L-0.7,0Z':'M-2.9,0L2.9,0M-0.55,-0.55L0.55,0.55M-0.55,0.55L0.55,-0.55'"},"size":{"value":100},"fill":{"value":"transparent"},"strokeWidth":{"value":1.2}}},"labels":{"update":{"fill":{"signal":"datum.value=='14nt'?'#3d85f0':datum.value=='15nt'?'#8530d8':datum.value=='16nt'?'#f0187e':datum.value=='17nt'?'#f57820':'#8dc33a'"}}}}}}}},
     {"data":{"name":"gC_d"},"transform":[{"fold":["14nt","15nt","16nt","17nt","18nt"],"as":["s","v"]}],"mark":{"type":"point","filled":false,"size":36,"strokeWidth":1.2,"opacity":1},
      "encoding":{"x":{"field":"p","type":"quantitative","axis":{"orient":"top","values":[-12,-11,-10,-9,-8,-7,-6,-5,-4,-3,-2,-1],"labels":false,"title":null,"minExtent":0,"maxExtent":0}},
       "y":{"field":"v","type":"quantitative","axis":{"orient":"right","values":[0,0.0001,0.0002,0.0003,0.0004,0.0005,0.0006,0.0007,0.0008,0.0009,0.001,0.0011,0.0012,0.0013,0.0014,0.0015,0.0016,0.0017,0.0018,0.0019,0.002],"labels":false,"title":null,"minExtent":0,"maxExtent":0}},
       "color":{"field":"s","type":"nominal"},"shape":{"field":"s","type":"nominal","legend":null}}}
   ]}
 ],"spacing":19,"resolve":{"scale":{"color":"independent","shape":"independent"}}},
 {"width":1,"height":85,"view":{"stroke":null},"data":{"values":[{"t":""}]},"mark":"text","encoding":{"text":{"field":"t"}}},
 {"width":1274,"height":47,"view":{"stroke":null},"data":{"values":[{"t":"C\u2192X"}]},"mark":{"type":"text","fontSize":35,"dx":53,"dy":-3.5},"encoding":{"text":{"field":"t"}}},
 {"hconcat":[
   {"width":154,"height":58,"view":{"stroke":null},"data":{"values":[{"t":""}]},"mark":"text","encoding":{"text":{"field":"t"}}},
   {"width":269,"height":36,"view":{"stroke":null},"data":{"values":[{"t":"Transition"}]},"mark":{"type":"text","fontSize":31},"encoding":{"text":{"field":"t"}}},
   {"vconcat":[
     {"width":642,"height":36,"view":{"stroke":null},"data":{"values":[{"t":"Transversion"}]},"mark":{"type":"text","fontSize":31},"encoding":{"text":{"field":"t"}}},
     {"width":642,"height":22,"view":{"stroke":null},"data":{"values":[{"u":0,"v":0},{"u":0.012,"v":0.45},{"u":0.03,"v":0.6},{"u":0.47,"v":0.6},{"u":0.488,"v":0.75},{"u":0.5,"v":1},{"u":0.512,"v":0.75},{"u":0.53,"v":0.6},{"u":0.97,"v":0.6},{"u":0.988,"v":0.45},{"u":1,"v":0}]},
      "mark":{"type":"line","color":"black","strokeWidth":1.5,"interpolate":"monotone"},
      "encoding":{"x":{"field":"u","type":"quantitative","scale":{"domain":[0,1],"nice":false,"zero":false},"axis":null},"y":{"field":"v","type":"quantitative","scale":{"domain":[0,1],"nice":false},"axis":null}}}
   ],"spacing":0}
 ],"spacing":105},
 {"hconcat":[
   {"width":154,"height":269,"view":{"stroke":null},"data":{"values":[{"t":"WT"}]},"mark":{"type":"text","fontSize":31,"dx":18,"dy":15},"encoding":{"text":{"field":"t"}}},
   {"width":269,"height":269,"resolve":{"axis":{"x":"independent","y":"independent"}},"layer":[
     {"data":{"values":[{"t":0.00085}]},"mark":{"type":"rule","color":"black","strokeDash":[2,1.5],"strokeWidth":1.3},"encoding":{"y":{"field":"t","type":"quantitative","axis":null}}},
     {"data":{"name":"cU_wt"},"transform":[{"fold":["14nt","15nt","16nt","17nt","18nt"],"as":["s","v"]}],"mark":{"type":"line","strokeWidth":1.2},
      "encoding":{"x":{"field":"p","type":"quantitative","scale":{"domain":[-13.1,0],"nice":false,"zero":false},"axis":{"orient":"bottom","values":[-12,-11,-10,-9,-8,-7,-6,-5,-4,-3,-2,-1],"labelExpr":"''+datum.value","title":"Position of transcript"}},
       "y":{"field":"v","type":"quantitative","scale":{"domain":[0,0.005],"nice":false},"axis":{"orient":"left","values":[0,0.0005,0.001,0.0015,0.002,0.0025,0.003,0.0035,0.004,0.0045,0.005],"labelExpr":"abs(datum.value/0.001-round(datum.value/0.001))>0.01?'':datum.value==0?'0':(round(datum.value/pow(10,floor(log(datum.value)/LN10+1e-6))*10)/10)+'x10'+(floor(log(datum.value)/LN10+1e-6)==-2?'\u207b\u00b2':floor(log(datum.value)/LN10+1e-6)==-3?'\u207b\u00b3':'\u207b\u2074')","title":"C->U error rate"}},
       "color":{"field":"s","type":"nominal","legend":{"orient":"none","legendX":23,"legendY":16,"title":null,"strokeColor":"transparent","fillColor":"transparent","encode":{"symbols":{"update":{"shape":{"signal":"datum.value=='14nt'?'M-2.9,0L-0.6,0M0.6,0L2.9,0M0.6,0A0.6,0.6,0,1,1,-0.6,0A0.6,0.6,0,1,1,0.6,0':datum.value=='15nt'?'M-2.9,0L-0.6,0M0.6,0L2.9,0M-0.6,-0.6L0.6,-0.6L0.6,0.6L-0.6,0.6Z':datum.value=='16nt'?'M-2.9,0L-0.45,0M0.45,0L2.9,0M0,-0.75L0.7,0.5L-0.7,0.5Z':datum.value=='17nt'?'M-2.9,0L-0.7,0M0.7,0L2.9,0M0,-0.7L0.7,0L0,0.7L-0.7,0Z':'M-2.9,0L2.9,0M-0.55,-0.55L0.55,0.55M-0.55,0.55L0.55,-0.55'"},"size":{"value":100},"fill":{"value":"transparent"},"strokeWidth":{"value":1.2}}},"labels":{"update":{"fill":{"signal":"datum.value=='14nt'?'#3d85f0':datum.value=='15nt'?'#8530d8':datum.value=='16nt'?'#f0187e':datum.value=='17nt'?'#f57820':'#8dc33a'"}}}}}}}},
     {"data":{"name":"cU_wt"},"transform":[{"fold":["14nt","15nt","16nt","17nt","18nt"],"as":["s","v"]}],"mark":{"type":"point","filled":false,"size":36,"strokeWidth":1.2,"opacity":1},
      "encoding":{"x":{"field":"p","type":"quantitative","axis":{"orient":"top","values":[-12,-11,-10,-9,-8,-7,-6,-5,-4,-3,-2,-1],"labels":false,"title":null,"minExtent":0,"maxExtent":0}},
       "y":{"field":"v","type":"quantitative","axis":{"orient":"right","values":[0,0.0005,0.001,0.0015,0.002,0.0025,0.003,0.0035,0.004,0.0045,0.005],"labels":false,"title":null,"minExtent":0,"maxExtent":0}},
       "color":{"field":"s","type":"nominal"},"shape":{"field":"s","type":"nominal","legend":null}}}
   ]},
   {"width":269,"height":269,"resolve":{"axis":{"x":"independent","y":"independent"}},"layer":[
     {"data":{"values":[{"t":0.000715}]},"mark":{"type":"rule","color":"black","strokeDash":[2,1.5],"strokeWidth":1.3},"encoding":{"y":{"field":"t","type":"quantitative","axis":null}}},
     {"data":{"name":"cA_wt"},"transform":[{"fold":["14nt","15nt","16nt","17nt","18nt"],"as":["s","v"]}],"mark":{"type":"line","strokeWidth":1.2},
      "encoding":{"x":{"field":"p","type":"quantitative","scale":{"domain":[-13.1,0],"nice":false,"zero":false},"axis":{"orient":"bottom","values":[-12,-11,-10,-9,-8,-7,-6,-5,-4,-3,-2,-1],"labelExpr":"''+datum.value","title":"Position of transcript"}},
       "y":{"field":"v","type":"quantitative","scale":{"domain":[0,0.0025],"nice":false},"axis":{"orient":"left","values":[0,0.0001,0.0002,0.0003,0.0004,0.0005,0.0006,0.0007,0.0008,0.0009,0.001,0.0011,0.0012,0.0013,0.0014,0.0015,0.0016,0.0017,0.0018,0.0019,0.002,0.0021,0.0022,0.0023,0.0024,0.0025],"labelExpr":"abs(datum.value/0.0005-round(datum.value/0.0005))>0.01?'':datum.value==0?'0':(round(datum.value/pow(10,floor(log(datum.value)/LN10+1e-6))*10)/10)+'x10'+(floor(log(datum.value)/LN10+1e-6)==-2?'\u207b\u00b2':floor(log(datum.value)/LN10+1e-6)==-3?'\u207b\u00b3':'\u207b\u2074')","title":"C->A error rate"}},
       "color":{"field":"s","type":"nominal","legend":{"orient":"none","legendX":62,"legendY":16,"title":null,"encode":{"symbols":{"update":{"shape":{"signal":"datum.value=='14nt'?'M-2.9,0L-0.6,0M0.6,0L2.9,0M0.6,0A0.6,0.6,0,1,1,-0.6,0A0.6,0.6,0,1,1,0.6,0':datum.value=='15nt'?'M-2.9,0L-0.6,0M0.6,0L2.9,0M-0.6,-0.6L0.6,-0.6L0.6,0.6L-0.6,0.6Z':datum.value=='16nt'?'M-2.9,0L-0.45,0M0.45,0L2.9,0M0,-0.75L0.7,0.5L-0.7,0.5Z':datum.value=='17nt'?'M-2.9,0L-0.7,0M0.7,0L2.9,0M0,-0.7L0.7,0L0,0.7L-0.7,0Z':'M-2.9,0L2.9,0M-0.55,-0.55L0.55,0.55M-0.55,0.55L0.55,-0.55'"},"size":{"value":100},"fill":{"value":"transparent"},"strokeWidth":{"value":1.2}}},"labels":{"update":{"fill":{"signal":"datum.value=='14nt'?'#3d85f0':datum.value=='15nt'?'#8530d8':datum.value=='16nt'?'#f0187e':datum.value=='17nt'?'#f57820':'#8dc33a'"}}}}}}}},
     {"data":{"name":"cA_wt"},"transform":[{"fold":["14nt","15nt","16nt","17nt","18nt"],"as":["s","v"]}],"mark":{"type":"point","filled":false,"size":36,"strokeWidth":1.2,"opacity":1},
      "encoding":{"x":{"field":"p","type":"quantitative","axis":{"orient":"top","values":[-12,-11,-10,-9,-8,-7,-6,-5,-4,-3,-2,-1],"labels":false,"title":null,"minExtent":0,"maxExtent":0}},
       "y":{"field":"v","type":"quantitative","axis":{"orient":"right","values":[0,0.0001,0.0002,0.0003,0.0004,0.0005,0.0006,0.0007,0.0008,0.0009,0.001,0.0011,0.0012,0.0013,0.0014,0.0015,0.0016,0.0017,0.0018,0.0019,0.002,0.0021,0.0022,0.0023,0.0024,0.0025],"labels":false,"title":null,"minExtent":0,"maxExtent":0}},
       "color":{"field":"s","type":"nominal"},"shape":{"field":"s","type":"nominal","legend":null}}}
   ]},
   {"width":269,"height":269,"resolve":{"axis":{"x":"independent","y":"independent"}},"layer":[
     {"data":{"values":[{"t":0.000623}]},"mark":{"type":"rule","color":"black","strokeDash":[2,1.5],"strokeWidth":1.3},"encoding":{"y":{"field":"t","type":"quantitative","axis":null}}},
     {"data":{"name":"cG_wt"},"transform":[{"fold":["14nt","15nt","16nt","17nt","18nt"],"as":["s","v"]}],"mark":{"type":"line","strokeWidth":1.2},
      "encoding":{"x":{"field":"p","type":"quantitative","scale":{"domain":[-13.1,0],"nice":false,"zero":false},"axis":{"orient":"bottom","values":[-12,-11,-10,-9,-8,-7,-6,-5,-4,-3,-2,-1],"labelExpr":"''+datum.value","title":"Position of transcript"}},
       "y":{"field":"v","type":"quantitative","scale":{"domain":[0,0.002],"nice":false},"axis":{"orient":"left","values":[0,0.0001,0.0002,0.0003,0.0004,0.0005,0.0006,0.0007,0.0008,0.0009,0.001,0.0011,0.0012,0.0013,0.0014,0.0015,0.0016,0.0017,0.0018,0.0019,0.002],"labelExpr":"abs(datum.value/0.0005-round(datum.value/0.0005))>0.01?'':datum.value==0?'0':(round(datum.value/pow(10,floor(log(datum.value)/LN10+1e-6))*10)/10)+'x10'+(floor(log(datum.value)/LN10+1e-6)==-2?'\u207b\u00b2':floor(log(datum.value)/LN10+1e-6)==-3?'\u207b\u00b3':'\u207b\u2074')","title":"C->G error rate"}},
       "color":{"field":"s","type":"nominal","legend":{"orient":"none","legendX":76,"legendY":17,"title":null,"encode":{"symbols":{"update":{"shape":{"signal":"datum.value=='14nt'?'M-2.9,0L-0.6,0M0.6,0L2.9,0M0.6,0A0.6,0.6,0,1,1,-0.6,0A0.6,0.6,0,1,1,0.6,0':datum.value=='15nt'?'M-2.9,0L-0.6,0M0.6,0L2.9,0M-0.6,-0.6L0.6,-0.6L0.6,0.6L-0.6,0.6Z':datum.value=='16nt'?'M-2.9,0L-0.45,0M0.45,0L2.9,0M0,-0.75L0.7,0.5L-0.7,0.5Z':datum.value=='17nt'?'M-2.9,0L-0.7,0M0.7,0L2.9,0M0,-0.7L0.7,0L0,0.7L-0.7,0Z':'M-2.9,0L2.9,0M-0.55,-0.55L0.55,0.55M-0.55,0.55L0.55,-0.55'"},"size":{"value":100},"fill":{"value":"transparent"},"strokeWidth":{"value":1.2}}},"labels":{"update":{"fill":{"signal":"datum.value=='14nt'?'#3d85f0':datum.value=='15nt'?'#8530d8':datum.value=='16nt'?'#f0187e':datum.value=='17nt'?'#f57820':'#8dc33a'"}}}}}}}},
     {"data":{"name":"cG_wt"},"transform":[{"fold":["14nt","15nt","16nt","17nt","18nt"],"as":["s","v"]}],"mark":{"type":"point","filled":false,"size":36,"strokeWidth":1.2,"opacity":1},
      "encoding":{"x":{"field":"p","type":"quantitative","axis":{"orient":"top","values":[-12,-11,-10,-9,-8,-7,-6,-5,-4,-3,-2,-1],"labels":false,"title":null,"minExtent":0,"maxExtent":0}},
       "y":{"field":"v","type":"quantitative","axis":{"orient":"right","values":[0,0.0001,0.0002,0.0003,0.0004,0.0005,0.0006,0.0007,0.0008,0.0009,0.001,0.0011,0.0012,0.0013,0.0014,0.0015,0.0016,0.0017,0.0018,0.0019,0.002],"labels":false,"title":null,"minExtent":0,"maxExtent":0}},
       "color":{"field":"s","type":"nominal"},"shape":{"field":"s","type":"nominal","legend":null}}}
   ]}
 ],"spacing":19,"resolve":{"scale":{"color":"independent","shape":"independent"}}},
 {"width":1,"height":26,"view":{"stroke":null},"data":{"values":[{"t":""}]},"mark":"text","encoding":{"text":{"field":"t"}}},
 {"hconcat":[
   {"width":154,"height":269,"view":{"stroke":null},"data":{"values":[{"t":"\u0394greAB"}]},"mark":{"type":"text","fontSize":31,"fontStyle":"italic","dx":20,"dy":-7},"encoding":{"text":{"field":"t"}}},
   {"width":269,"height":269,"resolve":{"axis":{"x":"independent","y":"independent"}},"layer":[
     {"data":{"values":[{"t":0.00163}]},"mark":{"type":"rule","color":"black","strokeDash":[2,1.5],"strokeWidth":1.3},"encoding":{"y":{"field":"t","type":"quantitative","axis":null}}},
     {"data":{"name":"cU_d"},"transform":[{"fold":["14nt","15nt","16nt","17nt","18nt"],"as":["s","v"]}],"mark":{"type":"line","strokeWidth":1.2},
      "encoding":{"x":{"field":"p","type":"quantitative","scale":{"domain":[-13.1,0],"nice":false,"zero":false},"axis":{"orient":"bottom","values":[-12,-11,-10,-9,-8,-7,-6,-5,-4,-3,-2,-1],"labelExpr":"''+datum.value","title":"Position of transcript"}},
       "y":{"field":"v","type":"quantitative","scale":{"domain":[0,0.005],"nice":false},"axis":{"orient":"left","values":[0,0.0005,0.001,0.0015,0.002,0.0025,0.003,0.0035,0.004,0.0045,0.005],"labelExpr":"abs(datum.value/0.001-round(datum.value/0.001))>0.01?'':datum.value==0?'0':(round(datum.value/pow(10,floor(log(datum.value)/LN10+1e-6))*10)/10)+'x10'+(floor(log(datum.value)/LN10+1e-6)==-2?'\u207b\u00b2':floor(log(datum.value)/LN10+1e-6)==-3?'\u207b\u00b3':'\u207b\u2074')","title":"C->U error rate"}},
       "color":{"field":"s","type":"nominal","legend":{"orient":"none","legendX":23,"legendY":20,"title":null,"encode":{"symbols":{"update":{"shape":{"signal":"datum.value=='14nt'?'M-2.9,0L-0.6,0M0.6,0L2.9,0M0.6,0A0.6,0.6,0,1,1,-0.6,0A0.6,0.6,0,1,1,0.6,0':datum.value=='15nt'?'M-2.9,0L-0.6,0M0.6,0L2.9,0M-0.6,-0.6L0.6,-0.6L0.6,0.6L-0.6,0.6Z':datum.value=='16nt'?'M-2.9,0L-0.45,0M0.45,0L2.9,0M0,-0.75L0.7,0.5L-0.7,0.5Z':datum.value=='17nt'?'M-2.9,0L-0.7,0M0.7,0L2.9,0M0,-0.7L0.7,0L0,0.7L-0.7,0Z':'M-2.9,0L2.9,0M-0.55,-0.55L0.55,0.55M-0.55,0.55L0.55,-0.55'"},"size":{"value":100},"fill":{"value":"transparent"},"strokeWidth":{"value":1.2}}},"labels":{"update":{"fill":{"signal":"datum.value=='14nt'?'#3d85f0':datum.value=='15nt'?'#8530d8':datum.value=='16nt'?'#f0187e':datum.value=='17nt'?'#f57820':'#8dc33a'"}}}}}}}},
     {"data":{"name":"cU_d"},"transform":[{"fold":["14nt","15nt","16nt","17nt","18nt"],"as":["s","v"]}],"mark":{"type":"point","filled":false,"size":36,"strokeWidth":1.2,"opacity":1},
      "encoding":{"x":{"field":"p","type":"quantitative","axis":{"orient":"top","values":[-12,-11,-10,-9,-8,-7,-6,-5,-4,-3,-2,-1],"labels":false,"title":null,"minExtent":0,"maxExtent":0}},
       "y":{"field":"v","type":"quantitative","axis":{"orient":"right","values":[0,0.0005,0.001,0.0015,0.002,0.0025,0.003,0.0035,0.004,0.0045,0.005],"labels":false,"title":null,"minExtent":0,"maxExtent":0}},
       "color":{"field":"s","type":"nominal"},"shape":{"field":"s","type":"nominal","legend":null}}}
   ]},
   {"width":269,"height":269,"resolve":{"axis":{"x":"independent","y":"independent"}},"layer":[
     {"data":{"values":[{"t":0.000802}]},"mark":{"type":"rule","color":"black","strokeDash":[2,1.5],"strokeWidth":1.3},"encoding":{"y":{"field":"t","type":"quantitative","axis":null}}},
     {"data":{"name":"cA_d"},"transform":[{"fold":["14nt","15nt","16nt","17nt","18nt"],"as":["s","v"]}],"mark":{"type":"line","strokeWidth":1.2},
      "encoding":{"x":{"field":"p","type":"quantitative","scale":{"domain":[-13.1,0],"nice":false,"zero":false},"axis":{"orient":"bottom","values":[-12,-11,-10,-9,-8,-7,-6,-5,-4,-3,-2,-1],"labelExpr":"''+datum.value","title":"Position of transcript"}},
       "y":{"field":"v","type":"quantitative","scale":{"domain":[0,0.0025],"nice":false},"axis":{"orient":"left","values":[0,0.0001,0.0002,0.0003,0.0004,0.0005,0.0006,0.0007,0.0008,0.0009,0.001,0.0011,0.0012,0.0013,0.0014,0.0015,0.0016,0.0017,0.0018,0.0019,0.002,0.0021,0.0022,0.0023,0.0024,0.0025],"labelExpr":"abs(datum.value/0.0005-round(datum.value/0.0005))>0.01?'':datum.value==0?'0':(round(datum.value/pow(10,floor(log(datum.value)/LN10+1e-6))*10)/10)+'x10'+(floor(log(datum.value)/LN10+1e-6)==-2?'\u207b\u00b2':floor(log(datum.value)/LN10+1e-6)==-3?'\u207b\u00b3':'\u207b\u2074')","title":"C->A error rate"}},
       "color":{"field":"s","type":"nominal","legend":{"orient":"none","legendX":52,"legendY":16,"title":null,"encode":{"symbols":{"update":{"shape":{"signal":"datum.value=='14nt'?'M-2.9,0L-0.6,0M0.6,0L2.9,0M0.6,0A0.6,0.6,0,1,1,-0.6,0A0.6,0.6,0,1,1,0.6,0':datum.value=='15nt'?'M-2.9,0L-0.6,0M0.6,0L2.9,0M-0.6,-0.6L0.6,-0.6L0.6,0.6L-0.6,0.6Z':datum.value=='16nt'?'M-2.9,0L-0.45,0M0.45,0L2.9,0M0,-0.75L0.7,0.5L-0.7,0.5Z':datum.value=='17nt'?'M-2.9,0L-0.7,0M0.7,0L2.9,0M0,-0.7L0.7,0L0,0.7L-0.7,0Z':'M-2.9,0L2.9,0M-0.55,-0.55L0.55,0.55M-0.55,0.55L0.55,-0.55'"},"size":{"value":100},"fill":{"value":"transparent"},"strokeWidth":{"value":1.2}}},"labels":{"update":{"fill":{"signal":"datum.value=='14nt'?'#3d85f0':datum.value=='15nt'?'#8530d8':datum.value=='16nt'?'#f0187e':datum.value=='17nt'?'#f57820':'#8dc33a'"}}}}}}}},
     {"data":{"name":"cA_d"},"transform":[{"fold":["14nt","15nt","16nt","17nt","18nt"],"as":["s","v"]}],"mark":{"type":"point","filled":false,"size":36,"strokeWidth":1.2,"opacity":1},
      "encoding":{"x":{"field":"p","type":"quantitative","axis":{"orient":"top","values":[-12,-11,-10,-9,-8,-7,-6,-5,-4,-3,-2,-1],"labels":false,"title":null,"minExtent":0,"maxExtent":0}},
       "y":{"field":"v","type":"quantitative","axis":{"orient":"right","values":[0,0.0001,0.0002,0.0003,0.0004,0.0005,0.0006,0.0007,0.0008,0.0009,0.001,0.0011,0.0012,0.0013,0.0014,0.0015,0.0016,0.0017,0.0018,0.0019,0.002,0.0021,0.0022,0.0023,0.0024,0.0025],"labels":false,"title":null,"minExtent":0,"maxExtent":0}},
       "color":{"field":"s","type":"nominal"},"shape":{"field":"s","type":"nominal","legend":null}}}
   ]},
   {"width":269,"height":269,"resolve":{"axis":{"x":"independent","y":"independent"}},"layer":[
     {"data":{"values":[{"t":0.000758}]},"mark":{"type":"rule","color":"black","strokeDash":[2,1.5],"strokeWidth":1.3},"encoding":{"y":{"field":"t","type":"quantitative","axis":null}}},
     {"data":{"name":"cG_d"},"transform":[{"fold":["14nt","15nt","16nt","17nt","18nt"],"as":["s","v"]}],"mark":{"type":"line","strokeWidth":1.2},
      "encoding":{"x":{"field":"p","type":"quantitative","scale":{"domain":[-13.1,0],"nice":false,"zero":false},"axis":{"orient":"bottom","values":[-12,-11,-10,-9,-8,-7,-6,-5,-4,-3,-2,-1],"labelExpr":"''+datum.value","title":"Position of transcript"}},
       "y":{"field":"v","type":"quantitative","scale":{"domain":[0,0.002],"nice":false},"axis":{"orient":"left","values":[0,0.0001,0.0002,0.0003,0.0004,0.0005,0.0006,0.0007,0.0008,0.0009,0.001,0.0011,0.0012,0.0013,0.0014,0.0015,0.0016,0.0017,0.0018,0.0019,0.002],"labelExpr":"abs(datum.value/0.0005-round(datum.value/0.0005))>0.01?'':datum.value==0?'0':(round(datum.value/pow(10,floor(log(datum.value)/LN10+1e-6))*10)/10)+'x10'+(floor(log(datum.value)/LN10+1e-6)==-2?'\u207b\u00b2':floor(log(datum.value)/LN10+1e-6)==-3?'\u207b\u00b3':'\u207b\u2074')","title":"C->G error rate"}},
       "color":{"field":"s","type":"nominal","legend":{"orient":"none","legendX":79,"legendY":13,"title":null,"encode":{"symbols":{"update":{"shape":{"signal":"datum.value=='14nt'?'M-2.9,0L-0.6,0M0.6,0L2.9,0M0.6,0A0.6,0.6,0,1,1,-0.6,0A0.6,0.6,0,1,1,0.6,0':datum.value=='15nt'?'M-2.9,0L-0.6,0M0.6,0L2.9,0M-0.6,-0.6L0.6,-0.6L0.6,0.6L-0.6,0.6Z':datum.value=='16nt'?'M-2.9,0L-0.45,0M0.45,0L2.9,0M0,-0.75L0.7,0.5L-0.7,0.5Z':datum.value=='17nt'?'M-2.9,0L-0.7,0M0.7,0L2.9,0M0,-0.7L0.7,0L0,0.7L-0.7,0Z':'M-2.9,0L2.9,0M-0.55,-0.55L0.55,0.55M-0.55,0.55L0.55,-0.55'"},"size":{"value":100},"fill":{"value":"transparent"},"strokeWidth":{"value":1.2}}},"labels":{"update":{"fill":{"signal":"datum.value=='14nt'?'#3d85f0':datum.value=='15nt'?'#8530d8':datum.value=='16nt'?'#f0187e':datum.value=='17nt'?'#f57820':'#8dc33a'"}}}}}}}},
     {"data":{"name":"cG_d"},"transform":[{"fold":["14nt","15nt","16nt","17nt","18nt"],"as":["s","v"]}],"mark":{"type":"point","filled":false,"size":36,"strokeWidth":1.2,"opacity":1},
      "encoding":{"x":{"field":"p","type":"quantitative","axis":{"orient":"top","values":[-12,-11,-10,-9,-8,-7,-6,-5,-4,-3,-2,-1],"labels":false,"title":null,"minExtent":0,"maxExtent":0}},
       "y":{"field":"v","type":"quantitative","axis":{"orient":"right","values":[0,0.0001,0.0002,0.0003,0.0004,0.0005,0.0006,0.0007,0.0008,0.0009,0.001,0.0011,0.0012,0.0013,0.0014,0.0015,0.0016,0.0017,0.0018,0.0019,0.002],"labels":false,"title":null,"minExtent":0,"maxExtent":0}},
       "color":{"field":"s","type":"nominal"},"shape":{"field":"s","type":"nominal","legend":null}}}
   ]}
 ],"spacing":19,"resolve":{"scale":{"color":"independent","shape":"independent"}}}
]
}
